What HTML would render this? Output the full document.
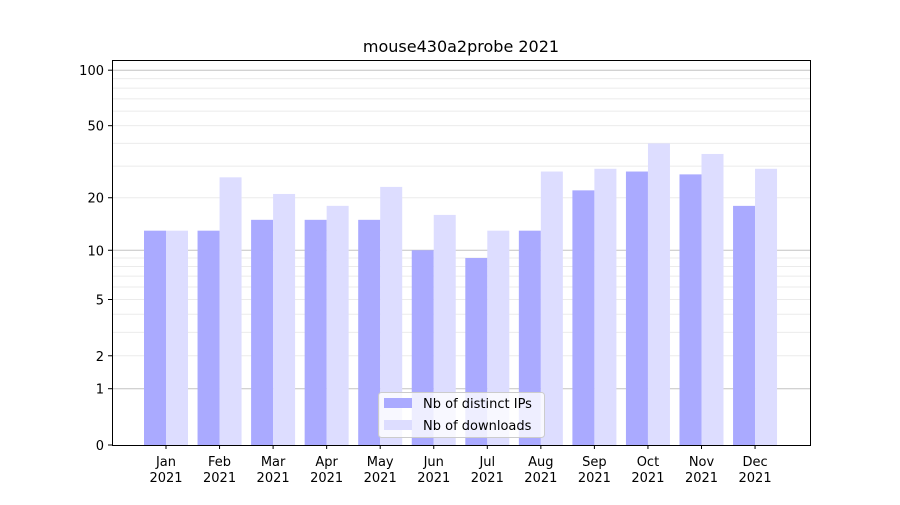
<!DOCTYPE html>
<html><head><meta charset="utf-8"><style>
body{margin:0;background:#fff;font-family:"Liberation Sans","DejaVu Sans",sans-serif;}
svg text{font-family:"DejaVu Sans","Liberation Sans",sans-serif;}
</style></head><body>
<svg id="chart" width="900" height="500">
<text x="461" y="52" font-size="16" text-anchor="middle">mouse430a2probe 2021</text>
<g id="grid"></g><g id="bars"></g><g id="axes"></g>
</svg>
<script>
const categories=["Jan","Feb","Mar","Apr","May","Jun","Jul","Aug","Sep","Oct","Nov","Dec"];
const ipsValues=[13,13,15,15,15,10,9,13,22,28,27,18];
const downloadValues=[13,26,21,18,23,16,13,28,29,40,35,29];
const tickValues=[0,1,2,5,10,20,50,100];
const NS="http://www.w3.org/2000/svg";
const L=112,R=810,T=60,B=445;
function y(v){return B-187*Math.log10(1+v);}
function x(i){return 166+i*53.55;}
function mk(tag,attrs,parent,txt){const e=document.createElementNS(NS,tag);for(const k in attrs)e.setAttribute(k,attrs[k]);if(txt!==undefined)e.textContent=txt;parent.appendChild(e);return e;}
const grid=document.getElementById('grid'),bars=document.getElementById('bars'),axes=document.getElementById('axes');
// minor grid
[2,3,4,5,6,7,8,9,20,30,40,50,60,70,80,90].forEach(v=>{const l=mk('line',{x1:L,x2:R,y1:y(v),y2:y(v),stroke:'#ebebeb','stroke-width':1},grid);});
[1,10,100].forEach(v=>{const l=mk('line',{x1:L,x2:R,y1:y(v),y2:y(v),stroke:'#c4c4c4','stroke-width':1},grid);});
categories.forEach((c,i)=>{
 const b1=mk('rect',{x:x(i)-22,y:y(ipsValues[i]),width:22,height:B-y(ipsValues[i]),fill:'#aaaaff'},bars);
 
 
 const b2=mk('rect',{x:x(i),y:y(downloadValues[i]),width:22,height:B-y(downloadValues[i]),fill:'#ddddff'},bars);
 
 
 mk('line',{x1:x(i),x2:x(i),y1:B,y2:B+4,stroke:'#000'},axes);
 const t=mk('text',{x:x(i),y:B+21,'font-size':13,'text-anchor':'middle'},axes,c);
 
 
 const t2=mk('text',{x:x(i),y:B+37,'font-size':13,'text-anchor':'middle'},axes,'2021');
 
 
});
tickValues.forEach(v=>{
 mk('line',{x1:L-4,x2:L,y1:y(v),y2:y(v),stroke:'#000'},axes);
 const t=mk('text',{x:L-8,y:y(v)+5,'font-size':13,'text-anchor':'end'},axes,String(v));
 
 
});
const f=mk('rect',{x:L+0.5,y:T+0.5,width:R-L,height:B-T,fill:'none',stroke:'#000'},axes);


const lg=mk('g',{},axes);


mk('rect',{x:378.5,y:392.5,width:166,height:45,rx:3,fill:'#fff','fill-opacity':0.8,stroke:'#ccc'},lg);
mk('rect',{x:384,y:398,width:28,height:10,fill:'#aaaaff'},lg);
mk('text',{x:423,y:408,'font-size':13},lg,'Nb of distinct IPs');
mk('rect',{x:384,y:420,width:28,height:10,fill:'#ddddff'},lg);
mk('text',{x:423,y:430,'font-size':13},lg,'Nb of downloads');
</script>
</body></html>
